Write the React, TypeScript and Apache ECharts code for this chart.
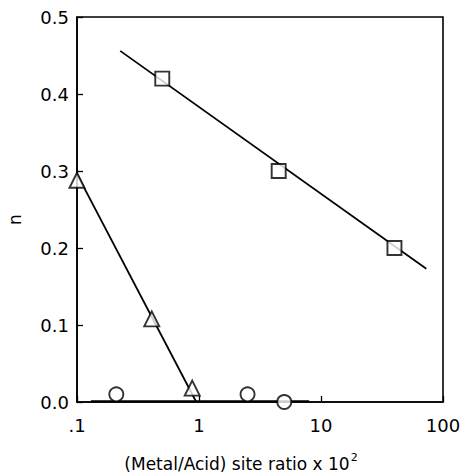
import React, { useEffect, useRef } from "react";
import * as echarts from "echarts";

const squarePoints = [[0.5, 0.42], [4.5, 0.3], [40, 0.2]];
const trianglePoints = [[0.1, 0.288], [0.41, 0.108], [0.88, 0.018]];
const circlePoints = [[0.21, 0.01], [2.5, 0.01], [5.0, 0.0]];
const squareFit = [[0.226, 0.456], [73, 0.173]];
const triangleFit = [[0.1, 0.296], [0.95, 0.0]];
const circleFit = [[0.13, 0.001], [8, 0.001]];
const yTicks = [0, 0.1, 0.2, 0.3, 0.4, 0.5];

export default function App() {
  const ref = useRef<HTMLDivElement>(null);
  useEffect(() => {
    const chart = echarts.init(ref.current!, null, { renderer: "svg" });
    const font = "DejaVu Sans, Liberation Sans, Arial, sans-serif";
    const marker = (name: string, data: number[][], symbol: string, size: number) => ({
      type: "scatter",
      name,
      data,
      symbol,
      symbolSize: size,
      itemStyle: { color: "#fff", borderColor: "#000", borderWidth: 1.9 },
      z: 5,
    });
    const fit = (data: number[][]) => ({
      type: "line",
      data,
      showSymbol: false,
      symbol: "none",
      lineStyle: { color: "#000", width: 1.8 },
      z: 3,
    });
    chart.setOption({
      animation: false,
      backgroundColor: "#fff",
      grid: {
        left: 77,
        right: 20,
        top: 17,
        bottom: 71,
        show: true,
        borderColor: "#000",
        borderWidth: 1.6,
        outerBoundsMode: "none",
        containLabel: false,
      },
      xAxis: {
        type: "log",
        logBase: 10,
        min: 0.1,
        max: 100,
        name: "(Metal/Acid) site ratio x 10{sup|2}",
        nameLocation: "middle",
        nameGap: 50,
        nameTextStyle: {
          fontFamily: font,
          fontSize: 17,
          color: "#000",
          padding: [0, 38, 0, 0],
          rich: {
            sup: { fontSize: 11, fontFamily: font, color: "#000", padding: [0, 0, 12, 1] },
          },
        },
        axisLine: { lineStyle: { color: "#000", width: 1.6 } },
        axisTick: { inside: true, length: 6, lineStyle: { color: "#000", width: 1.3 } },
        minorTick: { show: false },
        splitLine: { show: false },
        axisLabel: {
          fontFamily: font,
          fontSize: 18,
          color: "#000",
          margin: 14,
          formatter: (v: number) => (Math.abs(v - 0.1) < 1e-9 ? ".1" : String(Math.round(v))),
        },
      },
      yAxis: {
        type: "value",
        min: yTicks[0],
        max: yTicks[yTicks.length - 1],
        interval: 0.1,
        name: "n",
        nameLocation: "middle",
        nameGap: 54,
        nameTextStyle: { fontFamily: font, fontSize: 17, color: "#000", padding: [0, 20, 0, 0] },
        axisLine: { show: true, lineStyle: { color: "#000", width: 1.6 } },
        axisTick: { show: true, inside: true, length: 6, lineStyle: { color: "#000", width: 1.3 } },
        splitLine: { show: false },
        axisLabel: {
          fontFamily: font,
          fontSize: 18,
          color: "#000",
          margin: 8,
          formatter: (v: number) => v.toFixed(1),
        },
      },
      series: [
        fit(squareFit),
        fit(triangleFit),
        fit(circleFit),
        marker("square", squarePoints, "rect", 14),
        marker("triangle", trianglePoints, "triangle", 15),
        marker("circle", circlePoints, "circle", 14),
      ],
    });
    return () => chart.dispose();
  }, []);
  return <div ref={ref} style={{ width: 463, height: 473, position: "absolute", left: 0, top: 0 }} />;
}
